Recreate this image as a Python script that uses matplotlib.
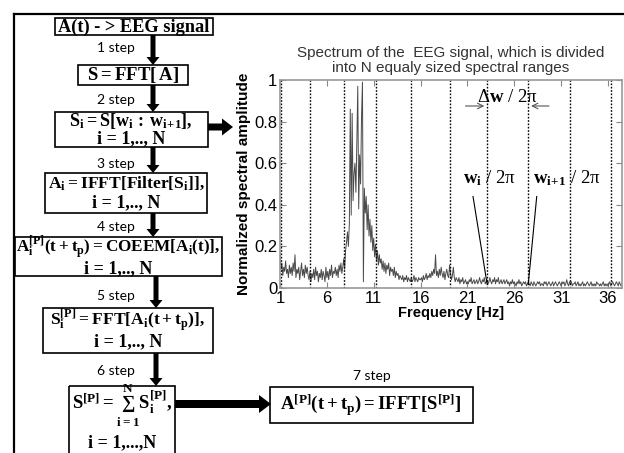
import numpy as np
import matplotlib
matplotlib.use('Agg')
import matplotlib.pyplot as plt
from matplotlib.patches import Rectangle, FancyArrow

plt.rcParams['mathtext.fontset'] = 'custom'
plt.rcParams['mathtext.rm'] = 'Liberation Serif:bold'
plt.rcParams['mathtext.it'] = 'Liberation Serif:bold'
plt.rcParams['mathtext.bf'] = 'Liberation Serif:bold'

# spectrum amplitude, one row per Hz, 0.1 Hz step starting at 1 Hz
amp = [
    0.17, 0.09, 0.12, 0.06, 0.10, 0.08, 0.13, 0.07, 0.09, 0.05,
    0.11, 0.07, 0.10, 0.06, 0.12, 0.08, 0.16, 0.05, 0.09, 0.07,
    0.10, 0.04, 0.08, 0.12, 0.06, 0.09, 0.05, 0.11, 0.07, 0.10,
    0.06, 0.04, 0.08, 0.03, 0.07, 0.05, 0.09, 0.04, 0.10, 0.06,
    0.08, 0.03, 0.07, 0.05, 0.09, 0.04, 0.08, 0.06, 0.03, 0.10,
    0.05, 0.08, 0.04, 0.09, 0.06, 0.11, 0.05, 0.08, 0.07, 0.10,
    0.06, 0.09, 0.05, 0.11, 0.08, 0.12, 0.07, 0.10, 0.14, 0.09,
    0.18, 0.22, 0.27, 0.20, 0.31, 0.86, 0.35, 0.84, 0.42, 0.55,
    0.60, 0.46, 0.70, 0.97, 0.38, 0.64, 0.50, 0.82, 0.99, 0.03,
    0.48, 0.36, 0.44, 0.28, 0.40, 0.25, 0.33, 0.22, 0.30, 0.18,
    0.24, 0.15, 0.21, 0.13, 0.18, 0.11, 0.16, 0.12, 0.14, 0.09,
    0.13, 0.08, 0.12, 0.07, 0.11, 0.09, 0.12, 0.06, 0.10, 0.08,
    0.09, 0.06, 0.10, 0.05, 0.08, 0.06, 0.07, 0.04, 0.06, 0.05,
    0.04, 0.06, 0.03, 0.05, 0.04, 0.06, 0.03, 0.05, 0.04, 0.03,
    0.05, 0.03, 0.04, 0.06, 0.03, 0.05, 0.04, 0.03, 0.05, 0.04,
    0.04, 0.05, 0.03, 0.06, 0.04, 0.05, 0.07, 0.04, 0.06, 0.05,
    0.07, 0.05, 0.08, 0.06, 0.09, 0.07, 0.16, 0.06, 0.08, 0.05,
    0.09, 0.06, 0.10, 0.07, 0.05, 0.08, 0.04, 0.07, 0.09, 0.06,
    0.05, 0.11, 0.07, 0.04, 0.06, 0.10, 0.05, 0.03, 0.05, 0.04,
    0.03, 0.05, 0.02, 0.04, 0.03, 0.05, 0.02, 0.03, 0.04, 0.02,
    0.03, 0.02, 0.04, 0.03, 0.05, 0.02, 0.03, 0.04, 0.02, 0.03,
    0.04, 0.02, 0.03, 0.05, 0.03, 0.02, 0.04, 0.03, 0.05, 0.02,
    0.03, 0.04, 0.02, 0.03, 0.05, 0.03, 0.02, 0.04, 0.03, 0.05,
    0.02, 0.04, 0.03, 0.05, 0.02, 0.03, 0.04, 0.02, 0.03, 0.04,
    0.02, 0.03, 0.04, 0.02, 0.03, 0.01, 0.03, 0.02, 0.04, 0.02,
    0.03, 0.02, 0.01, 0.03, 0.02, 0.04, 0.02, 0.03, 0.01, 0.02,
    0.03, 0.02, 0.03, 0.01, 0.02, 0.03, 0.02, 0.01, 0.03, 0.02,
    0.01, 0.03, 0.02, 0.01, 0.02, 0.03, 0.02, 0.03, 0.01, 0.02,
    0.02, 0.01, 0.03, 0.02, 0.03, 0.01, 0.02, 0.03, 0.02, 0.01,
    0.02, 0.03, 0.01, 0.02, 0.03, 0.02, 0.01, 0.02, 0.03, 0.02,
    0.01, 0.03, 0.02, 0.03, 0.01, 0.02, 0.04, 0.02, 0.01, 0.03,
    0.02, 0.03, 0.01, 0.02, 0.02, 0.03, 0.01, 0.02, 0.03, 0.01,
    0.02, 0.01, 0.02, 0.03, 0.01, 0.02, 0.01, 0.02, 0.03, 0.02,
    0.01, 0.02, 0.03, 0.01, 0.02, 0.01, 0.02, 0.01, 0.03, 0.02,
    0.02, 0.01, 0.02, 0.01, 0.02, 0.03, 0.01, 0.02, 0.01, 0.02,
    0.01, 0.02, 0.03, 0.01, 0.02, 0.03, 0.02, 0.01, 0.02, 0.03,
    0.02, 0.01, 0.03, 0.02, 0.01, 0.02,
]
freq = 1.0 + 0.1 * np.arange(len(amp))

# borders of the spectral ranges [Hz]
borders = [1.1, 4.2, 7.8, 11.25, 14.95, 19.1, 23.1, 27.5, 31.95, 36.3]
xticks = [1, 6, 11, 16, 21, 26, 31, 36]
yticks = [0, 0.2, 0.4, 0.6, 0.8, 1]

# flowchart: box corners in pixels (x0, y0, x1, y1)
boxes = [
    (55, 18, 213, 35),
    (78, 65, 188, 85),
    (55, 112, 208, 147),
    (45, 173, 207, 213),
    (15, 237, 222, 276),
    (43, 308, 213, 353),
    (69, 386, 175, 470),
    (270, 387, 473, 423),
]
step_labels = ['1 step', '2 step', '3 step', '4 step', '5 step', '6 step']
step_y = [48, 100, 164, 227, 296, 371]

fig = plt.figure(figsize=(6.24, 4.53), dpi=100)

# pixel-coordinate layer for the flowchart
ax0 = fig.add_axes([0, 0, 1, 1])
ax0.set_xlim(0, 624)
ax0.set_ylim(453, 0)
ax0.axis('off')

ax0.plot([14, 624], [14, 14], color='black', lw=1.6)
ax0.plot([14, 14], [14, 460], color='black', lw=1.6)

for (x0, y0, x1, y1) in boxes:
    ax0.add_patch(Rectangle((x0, y0), x1 - x0, y1 - y0, fill=False, ec='black', lw=1.2))

fs = 13
mkw = dict(ha='center', va='center')
serif = dict(ha='center', va='center', family='Liberation Serif', weight='bold')
ax0.text(134, 27, 'A(t) - > EEG signal', fontsize=13.2, **serif)
ax0.text(133, 75, r'$\mathbf{S = FFT[\,A]}$', fontsize=13.5, **mkw)
ax0.text(131, 121, r'$\mathbf{S_i = S[w_i\,:\,w_{i\!+\!1}],}$', fontsize=fs, **mkw)
ax0.text(131, 139, 'i = 1,.., N', fontsize=fs, **serif)
ax0.text(126, 183, r'$\mathbf{A_i = IFFT[Filter[S_i]],}$', fontsize=12.6, **mkw)
ax0.text(126, 203, 'i = 1,.., N', fontsize=fs, **serif)
ax0.text(118, 247, r'$\mathbf{A_i^{[P]}(t+t_p) = COEEM[A_i(t)],}$', fontsize=12.3, **mkw)
ax0.text(118, 269, 'i = 1,.., N', fontsize=fs, **serif)
ax0.text(128, 320, r'$\mathbf{S_i^{[P]} = FFT[A_i(t+t_p)],}$', fontsize=12.6, **mkw)
ax0.text(128, 342, 'i = 1,.., N', fontsize=fs, **serif)
ax0.text(122, 405, r'$\mathbf{S^{[P]} = \sum_{i=1}^{N} S_i^{[P]},}$', fontsize=13.5, **mkw)
ax0.text(122, 443, 'i = 1,...,N', fontsize=fs, **serif)
ax0.text(371, 405, r'$\mathbf{A^{[P]}(t+t_p) = IFFT[S^{[P]}]}$', fontsize=13.5, **mkw)

for lab, y in zip(step_labels, step_y):
    ax0.text(116, y, lab, ha='center', va='center', fontsize=10, family='Lato')
ax0.text(372, 376, '7 step', ha='center', va='center', fontsize=10, family='Lato')

# arrows between the steps
down = [(153, 35, 65), (153, 85, 112), (153, 147, 173), (153, 213, 237),
        (156, 276, 308), (156, 353, 386)]
for x, ya, yb in down:
    ax0.add_patch(FancyArrow(x, ya, 0, yb - ya, width=5, head_width=13, head_length=8,
                             length_includes_head=True, color='black', lw=0))
ax0.add_patch(FancyArrow(208, 127, 25, 0, width=7, head_width=17, head_length=11,
                         length_includes_head=True, color='black', lw=0))
ax0.add_patch(FancyArrow(175, 404, 96, 0, width=8, head_width=18, head_length=12,
                         length_includes_head=True, color='black', lw=0))

# spectrum plot
ax = fig.add_axes([280 / 624, 165 / 453, 342 / 624, 208 / 453])
ax.set_facecolor('none')
ax.plot(freq, amp, color='#4a4a4a', lw=0.7)
for b in borders:
    ax.axvline(b, color='black', ls=(0, (1.2, 1.2)), lw=1.0)
ax.set_xlim(1, 37.5)
ax.set_ylim(0, 1)
ax.set_xticks(xticks)
ax.set_yticks(yticks)
ax.set_yticklabels(['0', '0.2', '0.4', '0.6', '0.8', '1'])
ax.tick_params(direction='in', top=True, right=True, length=4, color='#888888',
               labelsize=12, pad=2)
for lab in ax.get_xticklabels() + ax.get_yticklabels():
    lab.set_family('Liberation Sans')
for s in ax.spines.values():
    s.set_color('#999999')
    s.set_linewidth(1.2)
ax.set_title('Spectrum of the  EEG signal, which is divided\ninto N equaly sized spectral ranges',
             fontsize=11, family='Liberation Sans', color='#333333', pad=6, linespacing=1.1)
ax.set_xlabel('Frequency [Hz]', fontsize=10.5, family='Liberation Sans', weight='bold', labelpad=0)
ax.set_ylabel('Normalized spectral amplitude', fontsize=11, family='Liberation Sans',
              weight='bold', labelpad=2)

# range width and border annotations
ax.text(25.3, 0.915, r'Δ$\mathbf{w}$ / 2π', ha='center', va='center', fontsize=13.5,
        family='Liberation Serif')
ax.annotate('', xy=(23.1, 0.875), xytext=(20.5, 0.875),
            arrowprops=dict(arrowstyle='->', color='#555555', lw=0.8))
ax.annotate('', xy=(27.5, 0.875), xytext=(30.0, 0.875),
            arrowprops=dict(arrowstyle='->', color='#555555', lw=0.8))
ax.text(23.4, 0.53, r'$\mathbf{w_i}$ / 2π', ha='center', va='center', fontsize=13.5,
        family='Liberation Serif')
ax.text(31.6, 0.53, r'$\mathbf{w_{i\!+\!1}}$ / 2π', ha='center', va='center', fontsize=13.5,
        family='Liberation Serif')
ax.plot([21.6, 23.1], [0.44, 0.02], color='black', lw=0.8)
ax.plot([28.4, 27.5], [0.44, 0.02], color='black', lw=0.8)

fig.savefig('out.png', dpi=100)
